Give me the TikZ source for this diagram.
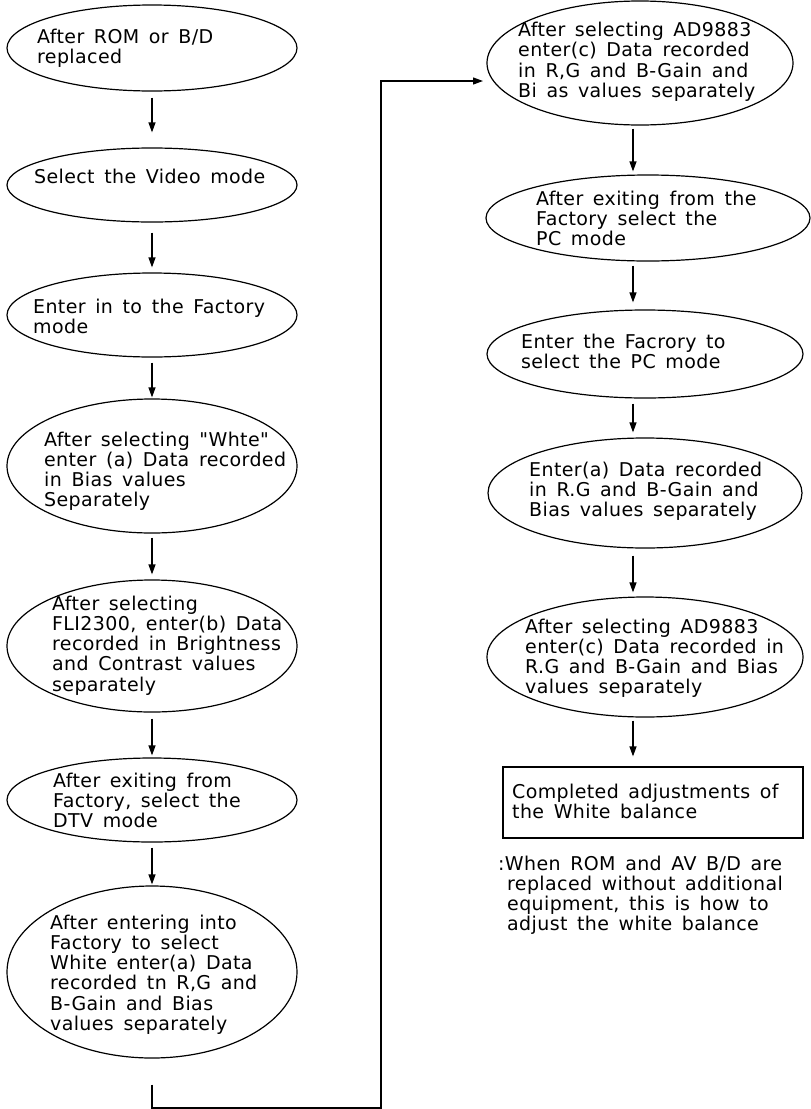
\documentclass[tikz,border=0pt]{standalone}
\usepackage{fontspec}
\newfontfamily\dvs{DejaVu Sans}[LetterSpace=2,WordSpace=1.5]
\usetikzlibrary{arrows.meta,shapes.geometric}
\newcommand{\tstrut}{\rule{0pt}{15pt}}
\begin{document}
\begin{tikzpicture}[x=1pt,y=1pt,
  oval/.style={draw, ellipse, line width=1.2pt, inner sep=0pt},
  boxnode/.style={draw, rectangle, line width=1.2pt, inner sep=0pt},
  txt/.style={anchor=north west, inner sep=0pt, align=left, font=\dvs\fontsize{19}{20.2}\selectfont},
  arr/.style={-{Triangle[length=10pt,width=7pt]}, line width=1.2pt}]
\useasboundingbox (0,0) rectangle (811,-1109);

% left column ellipses
\node[oval, minimum width=290pt, minimum height=86pt] (L1) at (152,-48) {};
\node[oval, minimum width=290pt, minimum height=74pt] (L2) at (152,-185) {};
\node[oval, minimum width=290pt, minimum height=84pt] (L3) at (152,-315) {};
\node[oval, minimum width=290pt, minimum height=134pt] (L4) at (152,-466) {};
\node[oval, minimum width=290pt, minimum height=132pt] (L5) at (152,-646) {};
\node[oval, minimum width=290pt, minimum height=84pt] (L6) at (152,-800) {};
\node[oval, minimum width=290pt, minimum height=172pt] (L7) at (152,-972) {};

% right column
\node[oval, minimum width=306pt, minimum height=124pt] (R1) at (640,-63) {};
\node[oval, minimum width=324pt, minimum height=86pt] (R2) at (648,-218) {};
\node[oval, minimum width=316pt, minimum height=88pt] (R3) at (645,-354) {};
\node[oval, minimum width=314pt, minimum height=110pt] (R4) at (645,-493) {};
\node[oval, minimum width=316pt, minimum height=120pt] (R5) at (645,-657) {};
\node[boxnode, minimum width=300pt, minimum height=71pt] (B) at (653,-802.5) {};

% texts
\node[txt] (tL1) at (37,-28) {\tstrut After ROM or B/D\\replaced};
\node[txt] (tL2) at (34,-168.5) {\tstrut Select the Video mode};
\node[txt] (tL3) at (33,-298) {\tstrut Enter in to the Factory\\mode};
\node[txt] (tL4) at (44,-431) {\tstrut After selecting "Whte"\\enter (a) Data recorded\\in Bias values\\Separately};
\node[txt] (tL5) at (52,-595) {\tstrut After selecting\\FLI2300, enter(b) Data\\recorded in Brightness\\and Contrast values\\separately};
\node[txt] (tL6) at (53,-772) {\tstrut After exiting from\\Factory, select the\\DTV mode};
\node[txt] (tL7) at (50,-914) {\tstrut After entering into\\Factory to select\\White enter(a) Data\\recorded tn R,G and\\B-Gain and Bias\\values separately};
\node[txt] (tR1) at (518,-21.5) {\tstrut After selecting AD9883\\enter(c) Data recorded\\in R,G and B-Gain and\\Bi as values separately};
\node[txt] (tR2) at (536,-190) {\tstrut After exiting from the\\Factory select the\\PC mode};
\node[txt] (tR3) at (521,-333) {\tstrut Enter the Facrory to\\select the PC mode};
\node[txt] (tR4) at (529,-461) {\tstrut Enter(a) Data recorded\\in R.G and B-Gain and\\Bias values separately};
\node[txt] (tR5) at (525,-618) {\tstrut After selecting AD9883\\enter(c) Data recorded in\\R.G and B-Gain and Bias\\values separately};
\node[txt] (tB) at (512,-783) {\tstrut Completed adjustments of\\the White balance};
\node[txt] (tN) at (498,-855) {\tstrut :When ROM and AV B/D are\\\hspace*{9pt}replaced without additional\\\hspace*{9pt}equipment, this is how to\\\hspace*{9pt}adjust the white balance};

% left arrows
\draw[arr, shorten <=6pt, shorten >=15pt] (L1.south) -- (L2.north);
\draw[arr, shorten <=10pt, shorten >=5pt] (L2.south) -- (L3.north);
\draw[arr, shorten <=5pt, shorten >=1pt] (L3.south) -- (L4.north);
\draw[arr, shorten <=4pt, shorten >=5pt] (L4.south) -- (L5.north);
\draw[arr, shorten <=6pt, shorten >=2pt] (L5.south) -- (L6.north);
\draw[arr, shorten <=5pt, shorten >=1pt] (L6.south) -- (L7.north);

% long connector
\coordinate (k1) at (381,-1108);
\coordinate (k2) at (381,-81);
\coordinate (r1in) at (483,-81);
\draw[arr] ([yshift=-26pt]L7.south) |- (k1) -- (k2) -- (r1in);

% right arrows
\coordinate (ax) at (633,0);
\draw[arr, shorten <=3pt, shorten >=3pt] (R1.south -| ax) -- (R2.north -| ax);
\draw[arr, shorten <=4pt, shorten >=7pt] (R2.south -| ax) -- (R3.north -| ax);
\draw[arr, shorten <=5pt, shorten >=5pt] (R3.south -| ax) -- (R4.north -| ax);
\draw[arr, shorten <=7pt, shorten >=4pt] (R4.south -| ax) -- (R5.north -| ax);
\draw[arr, shorten <=3pt, shorten >=10pt] (R5.south -| ax) -- (B.north -| ax);
\end{tikzpicture}
\end{document}
